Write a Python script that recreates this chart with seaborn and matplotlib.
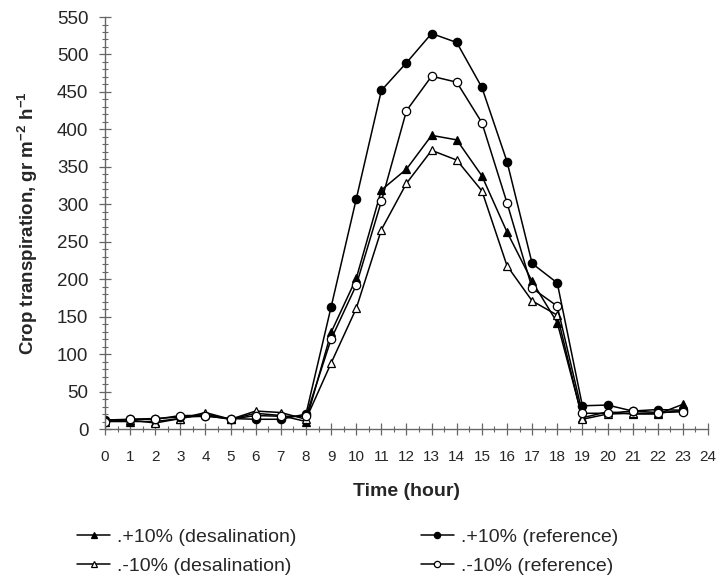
import numpy as np
import pandas as pd
import matplotlib
matplotlib.use("Agg")
import matplotlib.pyplot as plt
import seaborn as sns
from matplotlib.ticker import MultipleLocator

# hourly values (gr m-2 h-1)
hours = list(range(24))
plus_desal = [10, 10, 10, 14, 20, 13, 21, 18, 10, 129, 201, 319, 347, 392, 386, 338, 263, 197, 142, 15, 23, 20, 20, 33]
plus_ref = [12, 13, 14, 16, 17, 14, 13, 13, 20, 163, 307, 452, 489, 528, 516, 456, 357, 221, 195, 31, 32, 24, 26, 25]
minus_desal = [12, 12, 8, 14, 22, 13, 24, 22, 13, 88, 161, 266, 328, 372, 359, 318, 218, 171, 152, 13, 20, 21, 21, 25]
minus_ref = [10, 13, 13, 18, 18, 13, 18, 17, 17, 120, 192, 304, 425, 471, 463, 409, 302, 188, 164, 21, 21, 24, 22, 23]

series_labels = [".+10% (desalination)", ".-10% (desalination)", ".+10% (reference)", ".-10% (reference)"]

sns.set_style("white")
plt.rcParams['font.family'] = ['Liberation Sans', 'DejaVu Sans']
plt.rcParams['mathtext.fontset'] = 'custom'
plt.rcParams['mathtext.rm'] = 'Liberation Sans'
plt.rcParams['mathtext.bf'] = 'Liberation Sans:bold'

fig = plt.figure(figsize=(7.21, 5.81), dpi=100)
ax = fig.add_axes([0.1456, 0.2616, 0.8364, 0.7091])

styles = [
    (plus_desal, "^", "black"),
    (minus_desal, "^", "white"),
    (plus_ref, "o", "black"),
    (minus_ref, "o", "white"),
]
for (vals, mk, fc), lab in zip(styles, series_labels):
    df = pd.DataFrame({"hour": hours, "value": vals})
    sns.lineplot(data=df, x="hour", y="value", ax=ax, color="black", lw=1.1,
                 marker=mk, markersize=6, markerfacecolor=fc, markeredgecolor="black",
                 markeredgewidth=0.9, label=lab, legend=False)

ax.set_xlim(0, 24)
ax.set_ylim(0, 550)
ax.xaxis.set_major_locator(MultipleLocator(1))
ax.xaxis.set_minor_locator(MultipleLocator(0.5))
ax.yaxis.set_major_locator(MultipleLocator(50))
ax.yaxis.set_minor_locator(MultipleLocator(10))

for s in ["top", "right"]:
    ax.spines[s].set_visible(False)
for s in ["left", "bottom"]:
    ax.spines[s].set_color("#666666")
    ax.spines[s].set_linewidth(1.0)

ax.tick_params(axis="both", which="major", direction="inout", length=8, width=0.9, color="#666666")
ax.tick_params(axis="both", which="minor", direction="inout", length=4, width=0.8, color="#666666")
ax.tick_params(axis="y", which="major", labelsize=13.5, pad=8)
ax.tick_params(axis="x", which="major", labelsize=11, pad=11)
ax.tick_params(bottom=True, left=True, which="both")

ax.set_xlabel("Time (hour)", fontsize=14, fontweight="bold", labelpad=14)
ax.set_ylabel(r"Crop transpiration, gr m$^{\mathbf{-2}}$ h$^{\mathbf{-1}}$",
              fontsize=13.5, fontweight="bold", labelpad=12)

handles, labels = ax.get_legend_handles_labels()
fig.legend(handles, labels, loc="center left", bbox_to_anchor=(0.1068, 0.0508), ncol=2,
           frameon=False, fontsize=14, handlelength=1.7, handletextpad=0.36,
           columnspacing=6.4, labelspacing=0.6, markerscale=0.75,
           borderpad=0, borderaxespad=0)

fig.savefig("out.png", dpi=100)
